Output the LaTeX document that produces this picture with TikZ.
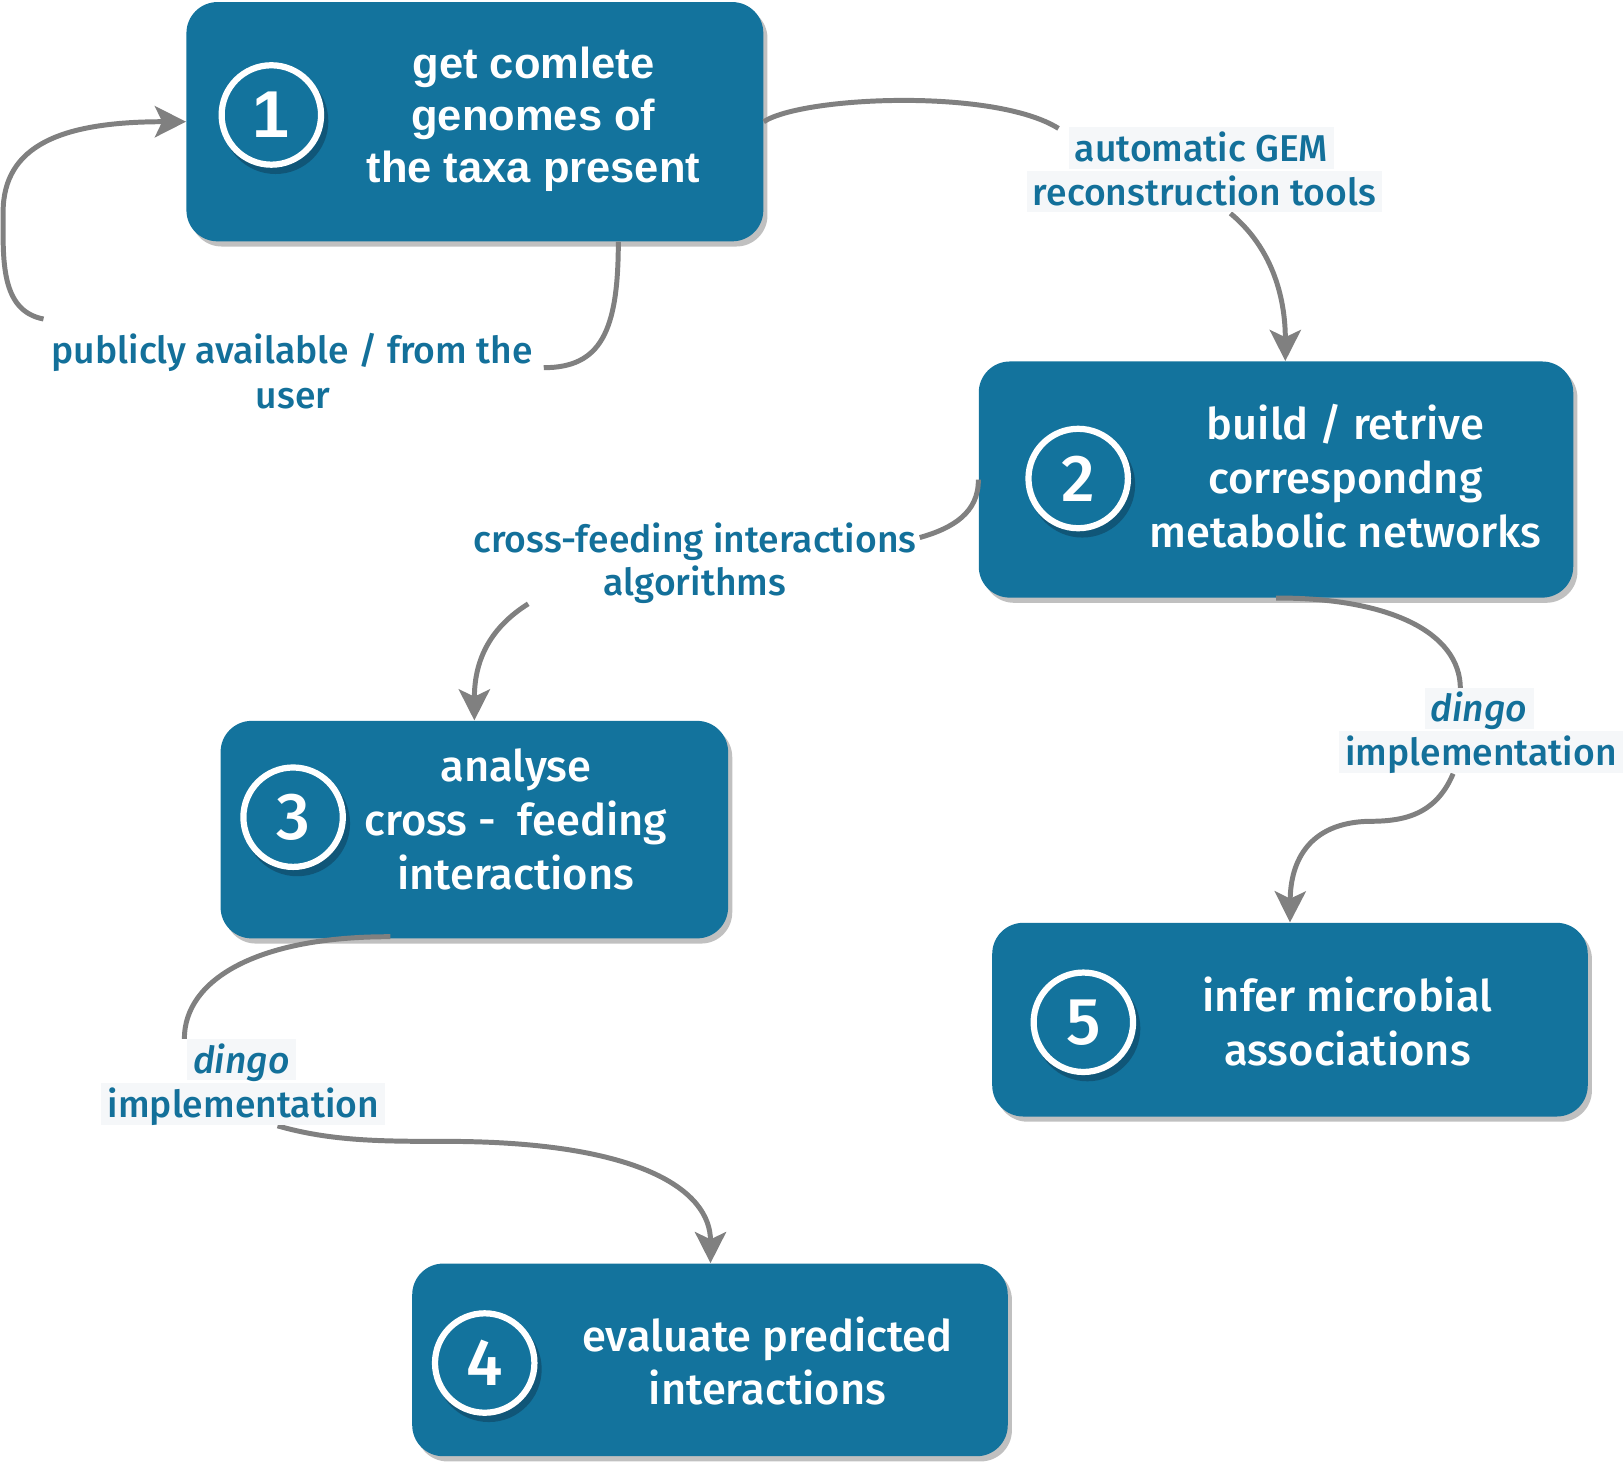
\documentclass[tikz,border=0pt]{standalone}
\usepackage{fontspec}
\setmainfont{Fira Sans}[UprightFont={* Medium}, ItalicFont={* Medium Italic}]
\newfontfamily\arialf{Liberation Sans}
\usetikzlibrary{shadows,arrows.meta}
\definecolor{boxblue}{RGB}{19,115,157}
\definecolor{cshadow}{RGB}{16,86,120}
\definecolor{lblue}{RGB}{19,112,154}
\definecolor{labbg}{RGB}{245,247,249}
\definecolor{shgray}{RGB}{192,192,192}
\definecolor{cgray}{RGB}{128,128,128}
\tikzset{
 box/.style={draw=none, fill=boxblue, rounded corners=15pt, inner sep=0pt,
   drop shadow={shadow xshift=2pt, shadow yshift=-2.5pt, fill=shgray, opacity=1}},
 num/.style={circle, draw=white, line width=3pt, fill=boxblue, minimum size=48pt, inner sep=0pt,
   text=white, font=\fontsize{32}{32}\selectfont,
   drop shadow={shadow xshift=2pt, shadow yshift=-3pt, fill=cshadow, draw=cshadow, line width=3pt, opacity=1}},
 btext/.style={align=center, text=white, font=\fontsize{21}{26}\selectfont, inner sep=0pt},
 lab/.style={text=lblue, font=\fontsize{18}{21}\selectfont, inner xsep=3pt, inner ysep=0pt,
   minimum height=20pt, text height=15pt, text depth=2pt},
 lbg/.style={lab, fill=labbg},
 conn/.style={draw=cgray, line width=2.4pt},
 arr/.style={conn, -{Stealth[length=15pt, width=15pt, inset=3.5pt]}},
}
\begin{document}
\begin{tikzpicture}[x=0.5pt, y=-0.5pt]
\useasboundingbox (0,0) rectangle (1568,1415);
% boxes
\node[box, minimum width=278.5pt, minimum height=115.5pt] (b1) at (458.5,117.5) {};
\node[box, minimum width=287pt, minimum height=114pt] (b2) at (1232,463) {};
\node[box, minimum width=245pt, minimum height=105pt] (b3) at (458,801) {};
\node[box, minimum width=287.5pt, minimum height=93pt] (b4) at (685.5,1313) {};
\node[box, minimum width=287.5pt, minimum height=93.5pt] (b5) at (1245.5,984.5) {};
% numbers
\node[num, font=\arialf\bfseries\fontsize{32}{32}\selectfont] (n1) at (262,111) {1};
\node[num] (n2) at (1041,462) {2};
\node[num] (n3) at (283,789) {3};
\node[num] (n4) at (468,1316) {4};
\node[num] (n5) at (1046,987) {5};
% box texts
\node[btext, font=\arialf\bfseries\fontsize{21}{25}\selectfont] (t1) at (515,115) {get comlete\\genomes of\\the taxa present};
\node[btext] (t2) at (1299,460) {build / retrive\\correspondng\\metabolic networks};
\node[btext] (t3) at (498,791) {analyse\\cross -\ \ feeding\\interactions};
\node[btext] (t4) at (741,1314) {evaluate predicted\\interactions};
\node[btext] (t5) at (1301,986) {infer microbial\\associations};
% connector end points at labels
\coordinate (c12a) at (1022,124);
\coordinate (c12b) at (1188,206);
\coordinate (c11a) at (525,355);
\coordinate (c11b) at (42,308);
\coordinate (c23a) at (888,519);
\coordinate (c23b) at (510,583);
\coordinate (c34a) at (178,1003);
\coordinate (c34b) at (268,1087);
\coordinate (c25a) at (1410,665);
\coordinate (c25b) at (1403,747);
% connectors
\draw[conn] (b1.east) .. controls (775,93) and (960,85) .. (c12a);
\draw[arr] (c12b) .. controls (1235,245) and (1241,300) .. ([shift={(9,0)}]b2.north);
\draw[conn] ([shift={(138.5,0)}]b1.south) .. controls (597,320) and (580,355) .. (c11a);
\draw[arr] (c11b) .. controls (0,300) and (3,250) .. (3,205) .. controls (3,140) and (60,117.5) .. (b1.west);
\draw[conn] (b2.west) .. controls (945,495) and (920,510) .. (c23a);
\draw[arr] (c23b) .. controls (475,605) and (458,635) .. (b3.north);
\draw[conn] ([shift={(-81,-2)}]b3.south) .. controls (250,904) and (178,945) .. (c34a);
\draw[arr] (c34b) .. controls (320,1102) and (370,1102) .. (430,1102) .. controls (620,1102) and (686,1150) .. ([shift={(0.5,0)}]b4.north);
\draw[conn] (b2.south) .. controls (1340,577) and (1410,610) .. (c25a);
\draw[arr] (c25b) .. controls (1385,790) and (1350,793) .. (1320,793) .. controls (1265,795) and (1246,830) .. (b5.north);
% labels
\node[lbg] (l12a) at (1160,143) {automatic GEM};
\node[lbg] (l12b) at (1163,185) {reconstruction tools};
\node[lab] (l23a) at (671,520) {cross-feeding interactions};
\node[lab] (l23b) at (671,562) {algorithms};
\node[lbg] (l34a) at (233,1023) {\itshape dingo};
\node[lbg] (l34b) at (235,1066) {implementation};
\node[lbg] (l25a) at (1428,684) {\itshape dingo};
\node[lbg] (l25b) at (1430,726) {implementation};
\node[lab] (l11a) at (282,338) {publicly available / from the};
\node[lab] (l11b) at (283,381) {user};
\end{tikzpicture}
\end{document}
